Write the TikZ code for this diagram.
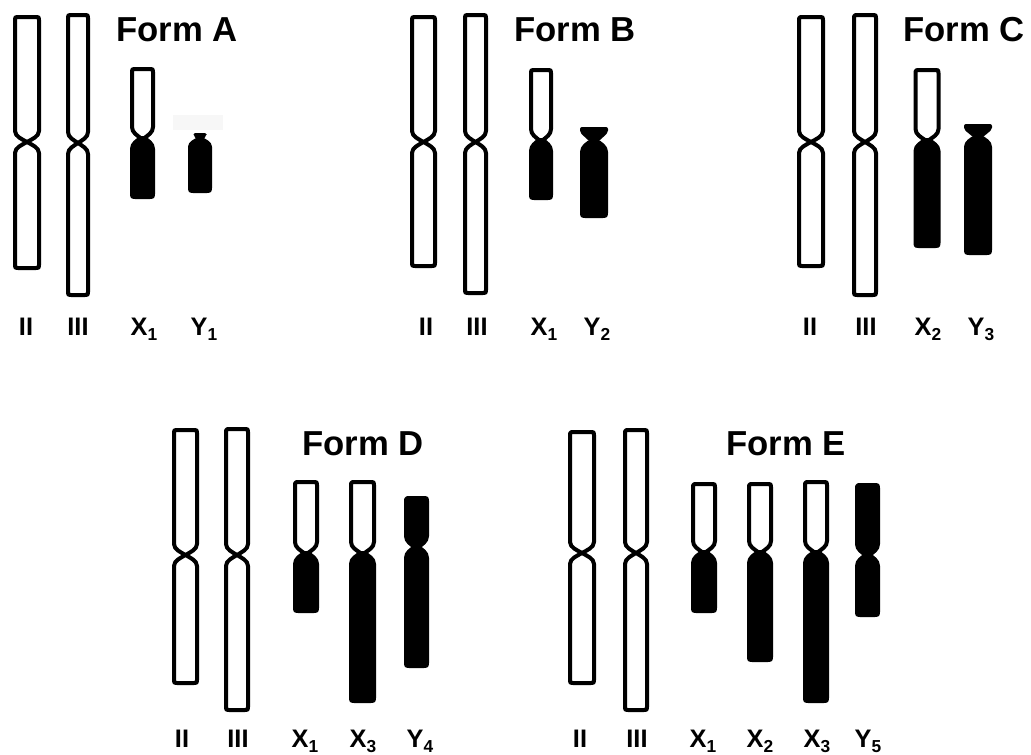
\documentclass[tikz,border=0pt]{standalone}
\usepackage{fontspec}
\setmainfont{Liberation Sans}

% one chromosome arm: style, x, centromere, end, half width, taper, neck
\newcommand\arm[7]{%
  \pgfmathsetmacro\armdir{sign(#4-#3)}
  \draw[#1] (#2-#7,#3)
    .. controls ({#2-#7-0.4*(#5-#7)},{#3+\armdir*0.25*#6}) and ({#2-#5},{#3+\armdir*0.5*#6}) .. ({#2-#5},{#3+\armdir*#6})
    -- ({#2-#5},{#4-\armdir*3}) .. controls ({#2-#5},#4) .. ({#2-#5+3},#4)
    -- ({#2+#5-3},#4) .. controls ({#2+#5},#4) .. ({#2+#5},{#4-\armdir*3})
    -- ({#2+#5},{#3+\armdir*#6})
    .. controls ({#2+#5},{#3+\armdir*0.5*#6}) and ({#2+#7+0.4*(#5-#7)},{#3+\armdir*0.25*#6}) .. (#2+#7,#3)
    -- cycle;
}
% whole chromosome: upper style, lower style, x, top, centromere, bottom, half width, neck
\newcommand\chrom[8]{%
  \arm{#1}{#3}{#5}{#4}{#7}{11}{#8}
  \arm{#2}{#3}{#5}{#6}{#7}{11}{#8}
}
% short lid of a Y: x, centromere, top, half width, band, neck
\newcommand\ycap[6]{%
  \fill[rounded corners=1.5] (#1-#6,#2) -- (#1-#4,#3+#5) -- (#1-#4,#3) -- (#1+#4,#3)
    -- (#1+#4,#3+#5) -- (#1+#6,#2) -- cycle;
}
\newcommand\chrsub[1]{\raisebox{-3.9pt}{\fontsize{13}{14}\selectfont #1}}

\tikzset{
  palearm/.style={draw=black, fill=white, line width=3pt, line join=round},
  darkarm/.style={draw=black, fill=black, line width=3pt, line join=round},
  formtitle/.style={inner sep=0pt, font=\fontsize{26}{28}\selectfont\bfseries},
  chrlabel/.style={inner sep=0pt, anchor=base, font=\fontsize{19}{21}\selectfont\bfseries}
}

\begin{document}
\begin{tikzpicture}[x=0.75pt, y=-0.75pt]
    \useasboundingbox (0,0) rectangle (1031,754);

    % Form A
    \node[formtitle] (formA) at (177,29.5) {Form A};
    \chrom{palearm}{palearm}{27}{17}{142}{268}{12}{0}
    \chrom{palearm}{palearm}{78}{15}{143}{295}{10}{0}
    \chrom{palearm}{darkarm}{142.5}{69}{138}{197}{10.5}{2}
    \fill[black!3] (173,115) rectangle (223,130);
    \ycap{200}{139.5}{133}{6.5}{3}{2.5}
    \arm{darkarm}{200}{139}{191}{10}{8}{1.5}
    \node[chrlabel] (a2) at (26,335) {II};
    \node[chrlabel] (a3) at (78,335) {III};
    \node[chrlabel] (ax1) at (144,335) {X\chrsub{1}};
    \node[chrlabel] (ay1) at (204,335) {Y\chrsub{1}};

    % Form B
    \node[formtitle] (formB) at (575,29.5) {Form B};
    \chrom{palearm}{palearm}{423.5}{17}{142}{266}{11.5}{0}
    \chrom{palearm}{palearm}{475.5}{15}{142}{293}{10.5}{0}
    \chrom{palearm}{darkarm}{541}{70}{140}{198}{10}{2}
    \ycap{594}{141}{127}{14}{5.5}{5}
    \arm{darkarm}{594}{141}{216}{12}{11}{3}
    \node[chrlabel] (b2) at (426,335) {II};
    \node[chrlabel] (b3) at (477,335) {III};
    \node[chrlabel] (bx1) at (544,335) {X\chrsub{1}};
    \node[chrlabel] (by2) at (597,335) {Y\chrsub{2}};

    % Form C
    \node[formtitle] (formC) at (964,29.5) {Form C};
    \chrom{palearm}{palearm}{811}{17}{142}{266}{12}{0}
    \chrom{palearm}{palearm}{865}{15}{142}{295}{11}{0}
    \chrom{palearm}{darkarm}{927}{70}{140}{246}{11.5}{2}
    \ycap{978}{137}{124}{14}{5.5}{5}
    \arm{darkarm}{978}{137}{253}{12}{10}{3}
    \node[chrlabel] (c2) at (810,335) {II};
    \node[chrlabel] (c3) at (866,335) {III};
    \node[chrlabel] (cx2) at (928,335) {X\chrsub{2}};
    \node[chrlabel] (cy3) at (981,335) {Y\chrsub{3}};

    % Form D
    \node[formtitle] (formD) at (363,444) {Form D};
    \chrom{palearm}{palearm}{185.5}{430}{555}{683}{11.5}{0}
    \chrom{palearm}{palearm}{237}{429}{555}{710}{11}{0}
    \chrom{palearm}{darkarm}{306}{482}{553}{611}{11}{2}
    \chrom{palearm}{darkarm}{362.5}{482}{553}{701}{11.5}{2}
    \chrom{darkarm}{darkarm}{416.5}{498}{547}{666}{10.5}{2}
    \node[chrlabel] (d2) at (182,747) {II};
    \node[chrlabel] (d3) at (238,747) {III};
    \node[chrlabel] (dx1) at (305,747) {X\chrsub{1}};
    \node[chrlabel] (dx3) at (363,747) {X\chrsub{3}};
    \node[chrlabel] (dy4) at (420,747) {Y\chrsub{4}};

    % Form E
    \node[formtitle] (formE) at (786,444) {Form E};
    \chrom{palearm}{palearm}{582}{432}{553}{683}{12}{0}
    \chrom{palearm}{palearm}{636}{430}{553}{710}{11}{0}
    \chrom{palearm}{darkarm}{704}{484}{552}{611}{11}{2}
    \chrom{palearm}{darkarm}{760}{484}{552}{660}{11}{2}
    \chrom{palearm}{darkarm}{816}{482}{552}{701}{11}{2}
    \chrom{darkarm}{darkarm}{867.5}{485}{555}{615}{10.5}{2}
    \node[chrlabel] (e2) at (580,747) {II};
    \node[chrlabel] (e3) at (637,747) {III};
    \node[chrlabel] (ex1) at (703,747) {X\chrsub{1}};
    \node[chrlabel] (ex2) at (760,747) {X\chrsub{2}};
    \node[chrlabel] (ex3) at (817,747) {X\chrsub{3}};
    \node[chrlabel] (ey5) at (868,747) {Y\chrsub{5}};
\end{tikzpicture}
\end{document}
